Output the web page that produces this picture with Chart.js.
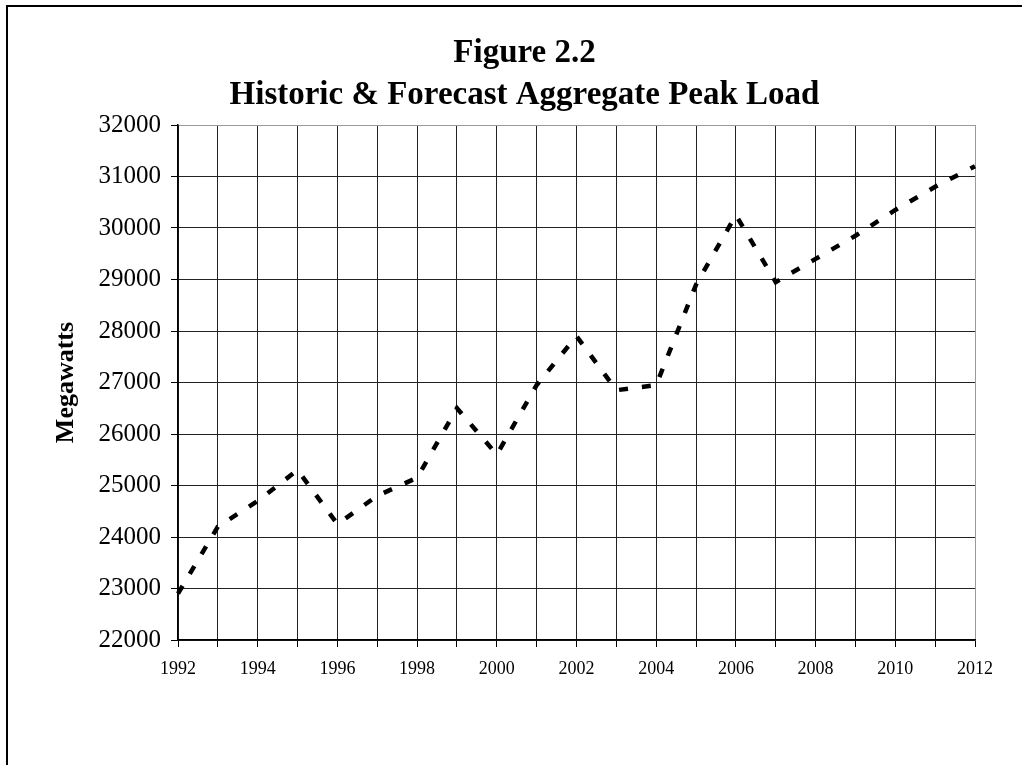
<!DOCTYPE html>
<html>
<head>
<meta charset="utf-8">
<script src="https://cdn.jsdelivr.net/npm/chart.js@4"></script>
<style>
  html, body { margin: 0; padding: 0; background: #fff; overflow: hidden; }
  #wrap { position: relative; width: 1029px; height: 765px; }
  #frame { position: absolute; left: 6px; top: 5px; width: 1014px; height: 780px;
           border-left: 2px solid #000; border-top: 2px solid #000; }
  canvas { position: absolute; left: 0; top: 0; }
</style>
</head>
<body>
<div id="wrap">
  <div id="frame"></div>
  <canvas id="chart" width="1029" height="765"></canvas>
</div>
<script>
// datos
const titleLines = ['Figure 2.2', 'Historic & Forecast Aggregate Peak Load'];
const yTitle = 'Megawatts';
const years = ['1992', '1993', '1994', '1995', '1996', '1997', '1998', '1999', '2000', '2001', '2002',
               '2003', '2004', '2005', '2006', '2007', '2008', '2009', '2010', '2011', '2012'];
const peakLoad = [22900, 24200, 24700, 25300, 24250, 24800, 25150, 26500, 25600, 26950, 27900,
                  26850, 26950, 28900, 30250, 28950, 29400, 29850, 30350, 30800, 31200];
const yMin = 22000;
const yMax = 32000;
const yStep = 1000;

const serif = '"Liberation Serif", "Times New Roman", serif';

// titulo de dos lineas, centrado sobre la hoja
const titlePlugin = {
    id: 'figTitle',
    afterDraw(chart) {
        const ctx = chart.ctx;
        const cx = chart.width / 2 + 10;
        ctx.save();
        ctx.font = 'bold 33px ' + serif;
        ctx.fillStyle = '#000';
        ctx.textAlign = 'center';
        ctx.textBaseline = 'alphabetic';
        ctx.fillText(titleLines[0], cx, 62);
        ctx.fillText(titleLines[1], cx, 104);
        ctx.restore();
    }
};

const ctx = document.getElementById('chart').getContext('2d');
new Chart(ctx, {
    type: 'line',
    data: {
        labels: years,
        datasets: [{
            label: 'Peak Load',
            data: peakLoad,
            borderColor: '#000',
            borderWidth: 4.5,
            borderDash: [9, 14],
            borderCapStyle: 'butt',
            pointRadius: 0,
            tension: 0,
            fill: false
        }]
    },
    options: {
        responsive: false,
        animation: false,
        layout: { padding: { top: 125, right: 54, left: 0, bottom: 0 } },
        plugins: {
            legend: { display: false },
            tooltip: { enabled: false }
        },
        scales: {
            x: {
                offset: false,
                afterFit: (scale) => { scale.height = 125; },
                grid: {
                    color: (c) => c.index === years.length - 1 ? '#9a9a9a' : '#222',
                    lineWidth: 1,
                    tickLength: 7,
                    tickColor: '#000'
                },
                border: { color: '#000', width: 1.5 },
                ticks: {
                    autoSkip: false,
                    maxRotation: 0,
                    padding: 11,
                    color: '#000',
                    font: { family: serif, size: 18 },
                    callback: (v, i) => i % 2 === 0 ? years[i] : ''
                }
            },
            y: {
                min: yMin,
                max: yMax,
                afterFit: (scale) => { scale.width = 178; },
                grid: {
                    color: (c) => c.tick && c.tick.value === yMax ? '#9a9a9a' : '#222',
                    lineWidth: 1,
                    tickLength: 7,
                    tickColor: '#000'
                },
                border: { color: '#000', width: 1.5 },
                ticks: {
                    stepSize: yStep,
                    padding: 10,
                    color: '#000',
                    font: { family: serif, size: 25 },
                    callback: (v) => String(v)
                },
                title: {
                    display: true,
                    text: yTitle,
                    color: '#000',
                    font: { family: serif, size: 26, weight: 'bold' },
                    padding: { top: 51, bottom: 0 }
                }
            }
        }
    },
    plugins: [titlePlugin]
});
</script>
</body>
</html>
